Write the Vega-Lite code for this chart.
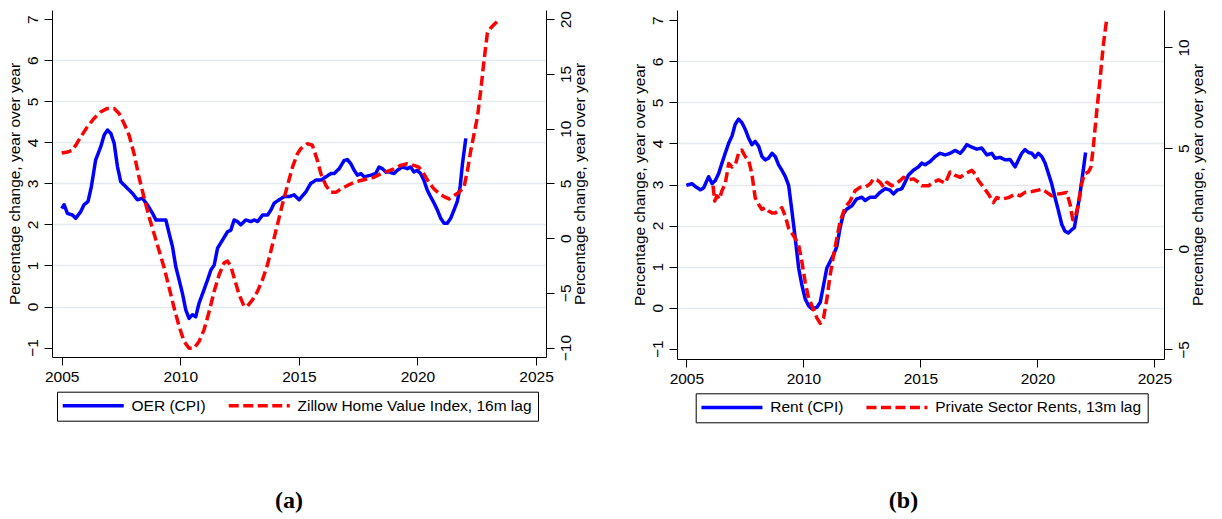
{
 "$schema": "https://vega.github.io/schema/vega-lite/v6.json",
 "background": "white",
 "padding": {"left": 6, "top": 10, "right": 5, "bottom": 0},
 "spacing": 44,
 "config": {
  "font": "Liberation Sans",
  "view": {"stroke": null},
  "axis": {"labelFont": "Liberation Sans", "titleFont": "Liberation Sans", "labelFontSize": 15.5, "titleFontSize": 15.5, "titleFontWeight": "normal", "labelColor": "black", "titleColor": "black", "domainColor": "black", "tickColor": "black", "domainWidth": 1, "tickWidth": 1, "tickSize": 8, "labelPadding": 4, "titlePadding": 3},
  "legend": {"orient": "none", "direction": "horizontal", "title": null, "symbolType": "M-1.6,0H10.6", "symbolSize": 100, "symbolStrokeWidth": 3.5, "labelFont": "Liberation Sans", "labelFontSize": 15.5, "labelColor": "black", "labelOffset": 53, "columnPadding": 15, "padding": 6, "strokeColor": "black", "fillColor": "white", "labelLimit": 500}
 },
 "datasets": {
  "oer": [
   {"s":"OER (CPI)","t":2005.0,"v":2.39},{"s":"OER (CPI)","t":2005.1,"v":2.48},{"s":"OER (CPI)","t":2005.24,"v":2.27},{"s":"OER (CPI)","t":2005.45,"v":2.23},{"s":"OER (CPI)","t":2005.59,"v":2.15},{"s":"OER (CPI)","t":2005.8,"v":2.31},{"s":"OER (CPI)","t":2005.94,"v":2.48},{"s":"OER (CPI)","t":2006.11,"v":2.56},{"s":"OER (CPI)","t":2006.25,"v":2.92},{"s":"OER (CPI)","t":2006.43,"v":3.57},{"s":"OER (CPI)","t":2006.65,"v":3.9},{"s":"OER (CPI)","t":2006.79,"v":4.18},{"s":"OER (CPI)","t":2006.93,"v":4.3},{"s":"OER (CPI)","t":2007.07,"v":4.22},{"s":"OER (CPI)","t":2007.21,"v":3.98},{"s":"OER (CPI)","t":2007.35,"v":3.41},{"s":"OER (CPI)","t":2007.49,"v":3.04},{"s":"OER (CPI)","t":2007.7,"v":2.92},{"s":"OER (CPI)","t":2007.84,"v":2.84},{"s":"OER (CPI)","t":2007.98,"v":2.76},{"s":"OER (CPI)","t":2008.19,"v":2.6},{"s":"OER (CPI)","t":2008.4,"v":2.64},{"s":"OER (CPI)","t":2008.61,"v":2.48},{"s":"OER (CPI)","t":2008.83,"v":2.27},{"s":"OER (CPI)","t":2008.97,"v":2.11},{"s":"OER (CPI)","t":2009.18,"v":2.11},{"s":"OER (CPI)","t":2009.39,"v":2.11},{"s":"OER (CPI)","t":2009.53,"v":1.78},{"s":"OER (CPI)","t":2009.67,"v":1.46},{"s":"OER (CPI)","t":2009.81,"v":0.97},{"s":"OER (CPI)","t":2009.95,"v":0.65},{"s":"OER (CPI)","t":2010.09,"v":0.32},{"s":"OER (CPI)","t":2010.23,"v":-0.08},{"s":"OER (CPI)","t":2010.37,"v":-0.29},{"s":"OER (CPI)","t":2010.51,"v":-0.2},{"s":"OER (CPI)","t":2010.65,"v":-0.25},{"s":"OER (CPI)","t":2010.79,"v":0.08},{"s":"OER (CPI)","t":2011.0,"v":0.41},{"s":"OER (CPI)","t":2011.15,"v":0.65},{"s":"OER (CPI)","t":2011.29,"v":0.89},{"s":"OER (CPI)","t":2011.43,"v":1.01},{"s":"OER (CPI)","t":2011.57,"v":1.42},{"s":"OER (CPI)","t":2011.78,"v":1.62},{"s":"OER (CPI)","t":2011.99,"v":1.82},{"s":"OER (CPI)","t":2012.13,"v":1.86},{"s":"OER (CPI)","t":2012.27,"v":2.11},{"s":"OER (CPI)","t":2012.41,"v":2.07},{"s":"OER (CPI)","t":2012.55,"v":1.99},{"s":"OER (CPI)","t":2012.76,"v":2.11},{"s":"OER (CPI)","t":2012.97,"v":2.07},{"s":"OER (CPI)","t":2013.12,"v":2.11},{"s":"OER (CPI)","t":2013.26,"v":2.07},{"s":"OER (CPI)","t":2013.47,"v":2.23},{"s":"OER (CPI)","t":2013.68,"v":2.23},{"s":"OER (CPI)","t":2013.82,"v":2.35},{"s":"OER (CPI)","t":2013.96,"v":2.52},{"s":"OER (CPI)","t":2014.17,"v":2.6},{"s":"OER (CPI)","t":2014.38,"v":2.68},{"s":"OER (CPI)","t":2014.59,"v":2.68},{"s":"OER (CPI)","t":2014.8,"v":2.72},{"s":"OER (CPI)","t":2015.01,"v":2.6},{"s":"OER (CPI)","t":2015.3,"v":2.8},{"s":"OER (CPI)","t":2015.5,"v":3.0},{"s":"OER (CPI)","t":2015.72,"v":3.08},{"s":"OER (CPI)","t":2015.93,"v":3.08},{"s":"OER (CPI)","t":2016.14,"v":3.16},{"s":"OER (CPI)","t":2016.35,"v":3.24},{"s":"OER (CPI)","t":2016.49,"v":3.24},{"s":"OER (CPI)","t":2016.7,"v":3.36},{"s":"OER (CPI)","t":2016.91,"v":3.56},{"s":"OER (CPI)","t":2017.05,"v":3.58},{"s":"OER (CPI)","t":2017.19,"v":3.48},{"s":"OER (CPI)","t":2017.33,"v":3.32},{"s":"OER (CPI)","t":2017.47,"v":3.2},{"s":"OER (CPI)","t":2017.61,"v":3.24},{"s":"OER (CPI)","t":2017.75,"v":3.16},{"s":"OER (CPI)","t":2018.03,"v":3.2},{"s":"OER (CPI)","t":2018.24,"v":3.24},{"s":"OER (CPI)","t":2018.38,"v":3.4},{"s":"OER (CPI)","t":2018.52,"v":3.36},{"s":"OER (CPI)","t":2018.66,"v":3.28},{"s":"OER (CPI)","t":2018.8,"v":3.28},{"s":"OER (CPI)","t":2019.01,"v":3.24},{"s":"OER (CPI)","t":2019.15,"v":3.32},{"s":"OER (CPI)","t":2019.36,"v":3.4},{"s":"OER (CPI)","t":2019.57,"v":3.36},{"s":"OER (CPI)","t":2019.71,"v":3.4},{"s":"OER (CPI)","t":2019.85,"v":3.28},{"s":"OER (CPI)","t":2019.99,"v":3.32},{"s":"OER (CPI)","t":2020.13,"v":3.24},{"s":"OER (CPI)","t":2020.27,"v":3.08},{"s":"OER (CPI)","t":2020.41,"v":2.84},{"s":"OER (CPI)","t":2020.55,"v":2.68},{"s":"OER (CPI)","t":2020.7,"v":2.52},{"s":"OER (CPI)","t":2020.84,"v":2.35},{"s":"OER (CPI)","t":2020.98,"v":2.15},{"s":"OER (CPI)","t":2021.12,"v":2.03},{"s":"OER (CPI)","t":2021.26,"v":2.03},{"s":"OER (CPI)","t":2021.4,"v":2.15},{"s":"OER (CPI)","t":2021.54,"v":2.35},{"s":"OER (CPI)","t":2021.68,"v":2.56},{"s":"OER (CPI)","t":2021.8,"v":2.92},{"s":"OER (CPI)","t":2021.9,"v":3.49},{"s":"OER (CPI)","t":2022.04,"v":4.1}
  ],
  "zhvi": [
   {"s":"Zillow Home Value Index, 16m lag","t":2005.0,"v":7.77},{"s":"Zillow Home Value Index, 16m lag","t":2005.24,"v":7.86},{"s":"Zillow Home Value Index, 16m lag","t":2005.45,"v":8.02},{"s":"Zillow Home Value Index, 16m lag","t":2005.59,"v":8.48},{"s":"Zillow Home Value Index, 16m lag","t":2005.8,"v":9.24},{"s":"Zillow Home Value Index, 16m lag","t":2006.08,"v":10.16},{"s":"Zillow Home Value Index, 16m lag","t":2006.36,"v":10.93},{"s":"Zillow Home Value Index, 16m lag","t":2006.65,"v":11.54},{"s":"Zillow Home Value Index, 16m lag","t":2006.93,"v":11.85},{"s":"Zillow Home Value Index, 16m lag","t":2007.21,"v":11.85},{"s":"Zillow Home Value Index, 16m lag","t":2007.42,"v":11.39},{"s":"Zillow Home Value Index, 16m lag","t":2007.63,"v":10.47},{"s":"Zillow Home Value Index, 16m lag","t":2007.84,"v":9.4},{"s":"Zillow Home Value Index, 16m lag","t":2008.05,"v":7.71},{"s":"Zillow Home Value Index, 16m lag","t":2008.26,"v":5.56},{"s":"Zillow Home Value Index, 16m lag","t":2008.47,"v":3.72},{"s":"Zillow Home Value Index, 16m lag","t":2008.69,"v":1.88},{"s":"Zillow Home Value Index, 16m lag","t":2008.9,"v":0.36},{"s":"Zillow Home Value Index, 16m lag","t":2009.11,"v":-1.18},{"s":"Zillow Home Value Index, 16m lag","t":2009.32,"v":-2.71},{"s":"Zillow Home Value Index, 16m lag","t":2009.53,"v":-4.55},{"s":"Zillow Home Value Index, 16m lag","t":2009.74,"v":-6.39},{"s":"Zillow Home Value Index, 16m lag","t":2009.95,"v":-8.07},{"s":"Zillow Home Value Index, 16m lag","t":2010.16,"v":-9.45},{"s":"Zillow Home Value Index, 16m lag","t":2010.37,"v":-10.07},{"s":"Zillow Home Value Index, 16m lag","t":2010.58,"v":-10.07},{"s":"Zillow Home Value Index, 16m lag","t":2010.79,"v":-9.45},{"s":"Zillow Home Value Index, 16m lag","t":2011.0,"v":-8.38},{"s":"Zillow Home Value Index, 16m lag","t":2011.22,"v":-6.69},{"s":"Zillow Home Value Index, 16m lag","t":2011.43,"v":-4.85},{"s":"Zillow Home Value Index, 16m lag","t":2011.64,"v":-3.32},{"s":"Zillow Home Value Index, 16m lag","t":2011.85,"v":-2.25},{"s":"Zillow Home Value Index, 16m lag","t":2011.99,"v":-2.1},{"s":"Zillow Home Value Index, 16m lag","t":2012.13,"v":-2.56},{"s":"Zillow Home Value Index, 16m lag","t":2012.27,"v":-3.63},{"s":"Zillow Home Value Index, 16m lag","t":2012.48,"v":-5.16},{"s":"Zillow Home Value Index, 16m lag","t":2012.69,"v":-6.23},{"s":"Zillow Home Value Index, 16m lag","t":2012.83,"v":-6.23},{"s":"Zillow Home Value Index, 16m lag","t":2013.05,"v":-5.62},{"s":"Zillow Home Value Index, 16m lag","t":2013.26,"v":-4.85},{"s":"Zillow Home Value Index, 16m lag","t":2013.47,"v":-3.78},{"s":"Zillow Home Value Index, 16m lag","t":2013.68,"v":-2.4},{"s":"Zillow Home Value Index, 16m lag","t":2013.89,"v":-0.56},{"s":"Zillow Home Value Index, 16m lag","t":2014.1,"v":1.28},{"s":"Zillow Home Value Index, 16m lag","t":2014.31,"v":3.12},{"s":"Zillow Home Value Index, 16m lag","t":2014.52,"v":4.8},{"s":"Zillow Home Value Index, 16m lag","t":2014.73,"v":6.48},{"s":"Zillow Home Value Index, 16m lag","t":2014.94,"v":7.71},{"s":"Zillow Home Value Index, 16m lag","t":2015.08,"v":8.17},{"s":"Zillow Home Value Index, 16m lag","t":2015.36,"v":8.63},{"s":"Zillow Home Value Index, 16m lag","t":2015.57,"v":8.48},{"s":"Zillow Home Value Index, 16m lag","t":2015.78,"v":7.1},{"s":"Zillow Home Value Index, 16m lag","t":2015.93,"v":5.87},{"s":"Zillow Home Value Index, 16m lag","t":2016.14,"v":4.8},{"s":"Zillow Home Value Index, 16m lag","t":2016.35,"v":4.18},{"s":"Zillow Home Value Index, 16m lag","t":2016.56,"v":4.18},{"s":"Zillow Home Value Index, 16m lag","t":2016.77,"v":4.49},{"s":"Zillow Home Value Index, 16m lag","t":2017.05,"v":4.8},{"s":"Zillow Home Value Index, 16m lag","t":2017.33,"v":5.1},{"s":"Zillow Home Value Index, 16m lag","t":2017.61,"v":5.26},{"s":"Zillow Home Value Index, 16m lag","t":2017.89,"v":5.41},{"s":"Zillow Home Value Index, 16m lag","t":2018.17,"v":5.56},{"s":"Zillow Home Value Index, 16m lag","t":2018.45,"v":5.87},{"s":"Zillow Home Value Index, 16m lag","t":2018.73,"v":6.09},{"s":"Zillow Home Value Index, 16m lag","t":2019.01,"v":6.33},{"s":"Zillow Home Value Index, 16m lag","t":2019.29,"v":6.64},{"s":"Zillow Home Value Index, 16m lag","t":2019.57,"v":6.79},{"s":"Zillow Home Value Index, 16m lag","t":2019.85,"v":6.64},{"s":"Zillow Home Value Index, 16m lag","t":2020.06,"v":6.48},{"s":"Zillow Home Value Index, 16m lag","t":2020.27,"v":5.87},{"s":"Zillow Home Value Index, 16m lag","t":2020.48,"v":5.1},{"s":"Zillow Home Value Index, 16m lag","t":2020.7,"v":4.49},{"s":"Zillow Home Value Index, 16m lag","t":2020.91,"v":4.09},{"s":"Zillow Home Value Index, 16m lag","t":2021.12,"v":3.79},{"s":"Zillow Home Value Index, 16m lag","t":2021.33,"v":3.58},{"s":"Zillow Home Value Index, 16m lag","t":2021.54,"v":3.88},{"s":"Zillow Home Value Index, 16m lag","t":2021.75,"v":4.18},{"s":"Zillow Home Value Index, 16m lag","t":2021.96,"v":4.64},{"s":"Zillow Home Value Index, 16m lag","t":2022.11,"v":6.18},{"s":"Zillow Home Value Index, 16m lag","t":2022.25,"v":8.02},{"s":"Zillow Home Value Index, 16m lag","t":2022.39,"v":9.55},{"s":"Zillow Home Value Index, 16m lag","t":2022.53,"v":11.08},{"s":"Zillow Home Value Index, 16m lag","t":2022.67,"v":13.53},{"s":"Zillow Home Value Index, 16m lag","t":2022.81,"v":16.29},{"s":"Zillow Home Value Index, 16m lag","t":2022.95,"v":18.75},{"s":"Zillow Home Value Index, 16m lag","t":2023.09,"v":19.2},{"s":"Zillow Home Value Index, 16m lag","t":2023.23,"v":19.51},{"s":"Zillow Home Value Index, 16m lag","t":2023.37,"v":19.81}
  ],
  "rent": [
   {"s":"Rent (CPI)","t":2005.0,"v":2.98},{"s":"Rent (CPI)","t":2005.24,"v":3.02},{"s":"Rent (CPI)","t":2005.41,"v":2.94},{"s":"Rent (CPI)","t":2005.6,"v":2.87},{"s":"Rent (CPI)","t":2005.74,"v":2.92},{"s":"Rent (CPI)","t":2005.95,"v":3.19},{"s":"Rent (CPI)","t":2006.1,"v":3.02},{"s":"Rent (CPI)","t":2006.24,"v":3.1},{"s":"Rent (CPI)","t":2006.38,"v":3.27},{"s":"Rent (CPI)","t":2006.52,"v":3.52},{"s":"Rent (CPI)","t":2006.66,"v":3.76},{"s":"Rent (CPI)","t":2006.81,"v":4.01},{"s":"Rent (CPI)","t":2006.95,"v":4.18},{"s":"Rent (CPI)","t":2007.09,"v":4.47},{"s":"Rent (CPI)","t":2007.23,"v":4.59},{"s":"Rent (CPI)","t":2007.37,"v":4.51},{"s":"Rent (CPI)","t":2007.52,"v":4.34},{"s":"Rent (CPI)","t":2007.66,"v":4.13},{"s":"Rent (CPI)","t":2007.8,"v":3.97},{"s":"Rent (CPI)","t":2007.94,"v":4.05},{"s":"Rent (CPI)","t":2008.09,"v":3.93},{"s":"Rent (CPI)","t":2008.23,"v":3.68},{"s":"Rent (CPI)","t":2008.37,"v":3.6},{"s":"Rent (CPI)","t":2008.51,"v":3.64},{"s":"Rent (CPI)","t":2008.66,"v":3.76},{"s":"Rent (CPI)","t":2008.8,"v":3.68},{"s":"Rent (CPI)","t":2008.94,"v":3.48},{"s":"Rent (CPI)","t":2009.08,"v":3.35},{"s":"Rent (CPI)","t":2009.23,"v":3.19},{"s":"Rent (CPI)","t":2009.37,"v":2.98},{"s":"Rent (CPI)","t":2009.51,"v":2.36},{"s":"Rent (CPI)","t":2009.65,"v":1.7},{"s":"Rent (CPI)","t":2009.8,"v":0.96},{"s":"Rent (CPI)","t":2009.94,"v":0.54},{"s":"Rent (CPI)","t":2010.08,"v":0.21},{"s":"Rent (CPI)","t":2010.22,"v":0.05},{"s":"Rent (CPI)","t":2010.37,"v":-0.03},{"s":"Rent (CPI)","t":2010.58,"v":0.01},{"s":"Rent (CPI)","t":2010.72,"v":0.13},{"s":"Rent (CPI)","t":2010.86,"v":0.54},{"s":"Rent (CPI)","t":2011.0,"v":0.96},{"s":"Rent (CPI)","t":2011.14,"v":1.12},{"s":"Rent (CPI)","t":2011.29,"v":1.29},{"s":"Rent (CPI)","t":2011.43,"v":1.49},{"s":"Rent (CPI)","t":2011.57,"v":1.95},{"s":"Rent (CPI)","t":2011.71,"v":2.28},{"s":"Rent (CPI)","t":2011.85,"v":2.4},{"s":"Rent (CPI)","t":2012.07,"v":2.48},{"s":"Rent (CPI)","t":2012.28,"v":2.65},{"s":"Rent (CPI)","t":2012.5,"v":2.69},{"s":"Rent (CPI)","t":2012.64,"v":2.61},{"s":"Rent (CPI)","t":2012.85,"v":2.69},{"s":"Rent (CPI)","t":2013.07,"v":2.69},{"s":"Rent (CPI)","t":2013.28,"v":2.81},{"s":"Rent (CPI)","t":2013.5,"v":2.9},{"s":"Rent (CPI)","t":2013.71,"v":2.86},{"s":"Rent (CPI)","t":2013.85,"v":2.77},{"s":"Rent (CPI)","t":2014.0,"v":2.86},{"s":"Rent (CPI)","t":2014.21,"v":2.9},{"s":"Rent (CPI)","t":2014.35,"v":3.06},{"s":"Rent (CPI)","t":2014.49,"v":3.23},{"s":"Rent (CPI)","t":2014.71,"v":3.35},{"s":"Rent (CPI)","t":2014.92,"v":3.43},{"s":"Rent (CPI)","t":2015.06,"v":3.52},{"s":"Rent (CPI)","t":2015.2,"v":3.48},{"s":"Rent (CPI)","t":2015.42,"v":3.56},{"s":"Rent (CPI)","t":2015.63,"v":3.68},{"s":"Rent (CPI)","t":2015.84,"v":3.76},{"s":"Rent (CPI)","t":2016.06,"v":3.72},{"s":"Rent (CPI)","t":2016.27,"v":3.76},{"s":"Rent (CPI)","t":2016.49,"v":3.83},{"s":"Rent (CPI)","t":2016.7,"v":3.76},{"s":"Rent (CPI)","t":2016.84,"v":3.85},{"s":"Rent (CPI)","t":2016.98,"v":3.97},{"s":"Rent (CPI)","t":2017.2,"v":3.91},{"s":"Rent (CPI)","t":2017.41,"v":3.86},{"s":"Rent (CPI)","t":2017.62,"v":3.89},{"s":"Rent (CPI)","t":2017.84,"v":3.72},{"s":"Rent (CPI)","t":2018.05,"v":3.76},{"s":"Rent (CPI)","t":2018.19,"v":3.64},{"s":"Rent (CPI)","t":2018.41,"v":3.66},{"s":"Rent (CPI)","t":2018.62,"v":3.6},{"s":"Rent (CPI)","t":2018.83,"v":3.61},{"s":"Rent (CPI)","t":2019.05,"v":3.43},{"s":"Rent (CPI)","t":2019.19,"v":3.6},{"s":"Rent (CPI)","t":2019.33,"v":3.76},{"s":"Rent (CPI)","t":2019.47,"v":3.85},{"s":"Rent (CPI)","t":2019.62,"v":3.78},{"s":"Rent (CPI)","t":2019.76,"v":3.76},{"s":"Rent (CPI)","t":2019.9,"v":3.66},{"s":"Rent (CPI)","t":2020.04,"v":3.76},{"s":"Rent (CPI)","t":2020.19,"v":3.68},{"s":"Rent (CPI)","t":2020.33,"v":3.52},{"s":"Rent (CPI)","t":2020.47,"v":3.27},{"s":"Rent (CPI)","t":2020.61,"v":3.02},{"s":"Rent (CPI)","t":2020.75,"v":2.69},{"s":"Rent (CPI)","t":2020.9,"v":2.36},{"s":"Rent (CPI)","t":2021.04,"v":2.03},{"s":"Rent (CPI)","t":2021.18,"v":1.86},{"s":"Rent (CPI)","t":2021.32,"v":1.82},{"s":"Rent (CPI)","t":2021.47,"v":1.9},{"s":"Rent (CPI)","t":2021.58,"v":1.95},{"s":"Rent (CPI)","t":2021.68,"v":2.28},{"s":"Rent (CPI)","t":2021.82,"v":2.77},{"s":"Rent (CPI)","t":2021.96,"v":3.35},{"s":"Rent (CPI)","t":2022.06,"v":3.78}
  ],
  "psr": [
   {"s":"Private Sector Rents, 13m lag","t":2006.14,"v":3.13},{"s":"Private Sector Rents, 13m lag","t":2006.21,"v":2.37},{"s":"Private Sector Rents, 13m lag","t":2006.31,"v":2.63},{"s":"Private Sector Rents, 13m lag","t":2006.41,"v":2.46},{"s":"Private Sector Rents, 13m lag","t":2006.52,"v":2.88},{"s":"Private Sector Rents, 13m lag","t":2006.66,"v":3.22},{"s":"Private Sector Rents, 13m lag","t":2006.81,"v":4.23},{"s":"Private Sector Rents, 13m lag","t":2006.95,"v":4.06},{"s":"Private Sector Rents, 13m lag","t":2007.09,"v":4.15},{"s":"Private Sector Rents, 13m lag","t":2007.23,"v":4.74},{"s":"Private Sector Rents, 13m lag","t":2007.37,"v":4.9},{"s":"Private Sector Rents, 13m lag","t":2007.52,"v":4.57},{"s":"Private Sector Rents, 13m lag","t":2007.66,"v":4.4},{"s":"Private Sector Rents, 13m lag","t":2007.8,"v":3.72},{"s":"Private Sector Rents, 13m lag","t":2007.94,"v":2.54},{"s":"Private Sector Rents, 13m lag","t":2008.09,"v":2.2},{"s":"Private Sector Rents, 13m lag","t":2008.23,"v":1.95},{"s":"Private Sector Rents, 13m lag","t":2008.37,"v":2.04},{"s":"Private Sector Rents, 13m lag","t":2008.51,"v":1.87},{"s":"Private Sector Rents, 13m lag","t":2008.66,"v":1.78},{"s":"Private Sector Rents, 13m lag","t":2008.8,"v":1.78},{"s":"Private Sector Rents, 13m lag","t":2008.94,"v":1.87},{"s":"Private Sector Rents, 13m lag","t":2009.08,"v":2.04},{"s":"Private Sector Rents, 13m lag","t":2009.23,"v":1.61},{"s":"Private Sector Rents, 13m lag","t":2009.37,"v":1.02},{"s":"Private Sector Rents, 13m lag","t":2009.51,"v":0.77},{"s":"Private Sector Rents, 13m lag","t":2009.65,"v":0.52},{"s":"Private Sector Rents, 13m lag","t":2009.8,"v":0.18},{"s":"Private Sector Rents, 13m lag","t":2009.94,"v":-0.67},{"s":"Private Sector Rents, 13m lag","t":2010.08,"v":-1.68},{"s":"Private Sector Rents, 13m lag","t":2010.22,"v":-2.44},{"s":"Private Sector Rents, 13m lag","t":2010.44,"v":-3.03},{"s":"Private Sector Rents, 13m lag","t":2010.58,"v":-3.45},{"s":"Private Sector Rents, 13m lag","t":2010.72,"v":-3.7},{"s":"Private Sector Rents, 13m lag","t":2010.86,"v":-3.45},{"s":"Private Sector Rents, 13m lag","t":2011.0,"v":-2.52},{"s":"Private Sector Rents, 13m lag","t":2011.14,"v":-1.34},{"s":"Private Sector Rents, 13m lag","t":2011.29,"v":-0.33},{"s":"Private Sector Rents, 13m lag","t":2011.43,"v":0.52},{"s":"Private Sector Rents, 13m lag","t":2011.57,"v":1.36},{"s":"Private Sector Rents, 13m lag","t":2011.78,"v":2.04},{"s":"Private Sector Rents, 13m lag","t":2012.0,"v":2.37},{"s":"Private Sector Rents, 13m lag","t":2012.21,"v":2.88},{"s":"Private Sector Rents, 13m lag","t":2012.43,"v":3.05},{"s":"Private Sector Rents, 13m lag","t":2012.64,"v":3.05},{"s":"Private Sector Rents, 13m lag","t":2012.85,"v":3.22},{"s":"Private Sector Rents, 13m lag","t":2013.0,"v":3.47},{"s":"Private Sector Rents, 13m lag","t":2013.14,"v":3.42},{"s":"Private Sector Rents, 13m lag","t":2013.28,"v":3.3},{"s":"Private Sector Rents, 13m lag","t":2013.43,"v":3.05},{"s":"Private Sector Rents, 13m lag","t":2013.57,"v":3.3},{"s":"Private Sector Rents, 13m lag","t":2013.78,"v":3.13},{"s":"Private Sector Rents, 13m lag","t":2013.93,"v":3.22},{"s":"Private Sector Rents, 13m lag","t":2014.14,"v":3.39},{"s":"Private Sector Rents, 13m lag","t":2014.28,"v":3.55},{"s":"Private Sector Rents, 13m lag","t":2014.49,"v":3.43},{"s":"Private Sector Rents, 13m lag","t":2014.71,"v":3.47},{"s":"Private Sector Rents, 13m lag","t":2014.92,"v":3.3},{"s":"Private Sector Rents, 13m lag","t":2015.06,"v":3.13},{"s":"Private Sector Rents, 13m lag","t":2015.35,"v":3.13},{"s":"Private Sector Rents, 13m lag","t":2015.56,"v":3.3},{"s":"Private Sector Rents, 13m lag","t":2015.77,"v":3.42},{"s":"Private Sector Rents, 13m lag","t":2016.06,"v":3.25},{"s":"Private Sector Rents, 13m lag","t":2016.27,"v":3.81},{"s":"Private Sector Rents, 13m lag","t":2016.49,"v":3.64},{"s":"Private Sector Rents, 13m lag","t":2016.7,"v":3.55},{"s":"Private Sector Rents, 13m lag","t":2016.91,"v":3.72},{"s":"Private Sector Rents, 13m lag","t":2017.2,"v":3.89},{"s":"Private Sector Rents, 13m lag","t":2017.34,"v":3.72},{"s":"Private Sector Rents, 13m lag","t":2017.48,"v":3.39},{"s":"Private Sector Rents, 13m lag","t":2017.7,"v":3.05},{"s":"Private Sector Rents, 13m lag","t":2017.91,"v":2.71},{"s":"Private Sector Rents, 13m lag","t":2018.12,"v":2.29},{"s":"Private Sector Rents, 13m lag","t":2018.26,"v":2.54},{"s":"Private Sector Rents, 13m lag","t":2018.48,"v":2.46},{"s":"Private Sector Rents, 13m lag","t":2018.76,"v":2.54},{"s":"Private Sector Rents, 13m lag","t":2019.05,"v":2.71},{"s":"Private Sector Rents, 13m lag","t":2019.26,"v":2.63},{"s":"Private Sector Rents, 13m lag","t":2019.47,"v":2.8},{"s":"Private Sector Rents, 13m lag","t":2019.76,"v":2.84},{"s":"Private Sector Rents, 13m lag","t":2020.04,"v":2.91},{"s":"Private Sector Rents, 13m lag","t":2020.19,"v":2.96},{"s":"Private Sector Rents, 13m lag","t":2020.4,"v":2.8},{"s":"Private Sector Rents, 13m lag","t":2020.61,"v":2.63},{"s":"Private Sector Rents, 13m lag","t":2020.83,"v":2.71},{"s":"Private Sector Rents, 13m lag","t":2021.04,"v":2.74},{"s":"Private Sector Rents, 13m lag","t":2021.25,"v":2.8},{"s":"Private Sector Rents, 13m lag","t":2021.4,"v":2.2},{"s":"Private Sector Rents, 13m lag","t":2021.51,"v":1.44},{"s":"Private Sector Rents, 13m lag","t":2021.61,"v":1.53},{"s":"Private Sector Rents, 13m lag","t":2021.75,"v":2.2},{"s":"Private Sector Rents, 13m lag","t":2021.89,"v":3.22},{"s":"Private Sector Rents, 13m lag","t":2022.01,"v":3.72},{"s":"Private Sector Rents, 13m lag","t":2022.18,"v":3.81},{"s":"Private Sector Rents, 13m lag","t":2022.29,"v":4.06},{"s":"Private Sector Rents, 13m lag","t":2022.39,"v":5.07},{"s":"Private Sector Rents, 13m lag","t":2022.53,"v":6.76},{"s":"Private Sector Rents, 13m lag","t":2022.68,"v":8.45},{"s":"Private Sector Rents, 13m lag","t":2022.82,"v":10.14},{"s":"Private Sector Rents, 13m lag","t":2022.96,"v":11.4}
  ]
 },
 "hconcat": [
  {
   "width": 494,
   "height": 347,
   "title": {"text": "(a)", "orient": "bottom", "anchor": "middle", "font": "Liberation Serif", "fontWeight": "bold", "fontSize": 24, "color": "black", "offset": 68, "dx": -10},
   "encoding": {
    "x": {"field": "t", "type": "quantitative", "scale": {"domain": [2004.59, 2025.42], "nice": false, "zero": false}, "axis": {"values": [2005, 2010, 2015, 2020, 2025], "format": "d", "title": null, "grid": false}},
    "color": {"field": "s", "type": "nominal", "scale": {"domain": ["OER (CPI)", "Zillow Home Value Index, 16m lag"], "range": ["#0000ff", "#ff0000"]}, "legend": {"legendX": 5, "legendY": 381.7}},
    "strokeDash": {"field": "s", "type": "nominal", "scale": {"domain": ["OER (CPI)", "Zillow Home Value Index, 16m lag"], "range": [[1, 0], [10, 4.5]]}, "legend": {"legendX": 5, "legendY": 381.7}}
   },
   "layer": [
    {
     "data": {"name": "oer"},
     "mark": {"type": "line", "strokeWidth": 3.5, "strokeJoin": "round"},
     "encoding": {
      "y": {"field": "v", "type": "quantitative", "scale": {"domain": [-1.23, 7.225], "nice": false, "zero": false}, "axis": {"orient": "left", "values": [-1, 0, 1, 2, 3, 4, 5, 6, 7], "labelAngle": 270, "title": "Percentage change, year over year", "grid": true, "gridColor": "#e3ebee", "gridWidth": 1.5, "gridOpacity": {"condition": {"test": "datum.value < -0.5 || datum.value > 6.5", "value": 0}, "value": 1}}}
     }
    },
    {
     "data": {"name": "zhvi"},
     "mark": {"type": "line", "strokeWidth": 3.5, "strokeJoin": "round"},
     "encoding": {
      "y": {"field": "v", "type": "quantitative", "scale": {"domain": [-10.8625, 20.84], "nice": false, "zero": false}, "axis": {"orient": "right", "values": [-10, -5, 0, 5, 10, 15, 20], "labelAngle": 270, "title": "Percentage change, year over year", "titleAngle": 270, "titleBaseline": "top", "titlePadding": -1, "grid": false}}
     }
    }
   ],
   "resolve": {"scale": {"y": "independent"}}
  },
  {
   "width": 487,
   "height": 349,
   "title": {"text": "(b)", "orient": "bottom", "anchor": "middle", "font": "Liberation Serif", "fontWeight": "bold", "fontSize": 24, "color": "black", "offset": 66, "dx": -17},
   "encoding": {
    "x": {"field": "t", "type": "quantitative", "scale": {"domain": [2004.6, 2025.41], "nice": false, "zero": false}, "axis": {"values": [2005, 2010, 2015, 2020, 2025], "format": "d", "title": null, "grid": false}},
    "color": {"field": "s", "type": "nominal", "scale": {"domain": ["Rent (CPI)", "Private Sector Rents, 13m lag"], "range": ["#0000ff", "#ff0000"]}, "legend": {"legendX": 18.7, "legendY": 383.3}},
    "strokeDash": {"field": "s", "type": "nominal", "scale": {"domain": ["Rent (CPI)", "Private Sector Rents, 13m lag"], "range": [[1, 0], [10, 4.5]]}, "legend": {"legendX": 18.7, "legendY": 383.3}}
   },
   "layer": [
    {
     "data": {"name": "rent"},
     "mark": {"type": "line", "strokeWidth": 3.5, "strokeJoin": "round"},
     "encoding": {
      "y": {"field": "v", "type": "quantitative", "scale": {"domain": [-1.25, 7.25], "nice": false, "zero": false}, "axis": {"orient": "left", "values": [-1, 0, 1, 2, 3, 4, 5, 6, 7], "labelAngle": 270, "title": "Percentage change, year over year", "grid": true, "gridColor": "#e3ebee", "gridWidth": 1.5, "gridOpacity": {"condition": {"test": "datum.value < -0.5 || datum.value > 6.5", "value": 0}, "value": 1}}}
     }
    },
    {
     "data": {"name": "psr"},
     "mark": {"type": "line", "strokeWidth": 3.5, "strokeJoin": "round"},
     "encoding": {
      "y": {"field": "v", "type": "quantitative", "scale": {"domain": [-5.48, 11.86], "nice": false, "zero": false}, "axis": {"orient": "right", "values": [-5, 0, 5, 10], "labelAngle": 270, "title": "Percentage change, year over year", "titleAngle": 270, "titleBaseline": "top", "titlePadding": -1, "grid": false}}
     }
    }
   ],
   "resolve": {"scale": {"y": "independent"}}
  }
 ],
 "resolve": {"scale": {"color": "independent", "strokeDash": "independent"}}
}
